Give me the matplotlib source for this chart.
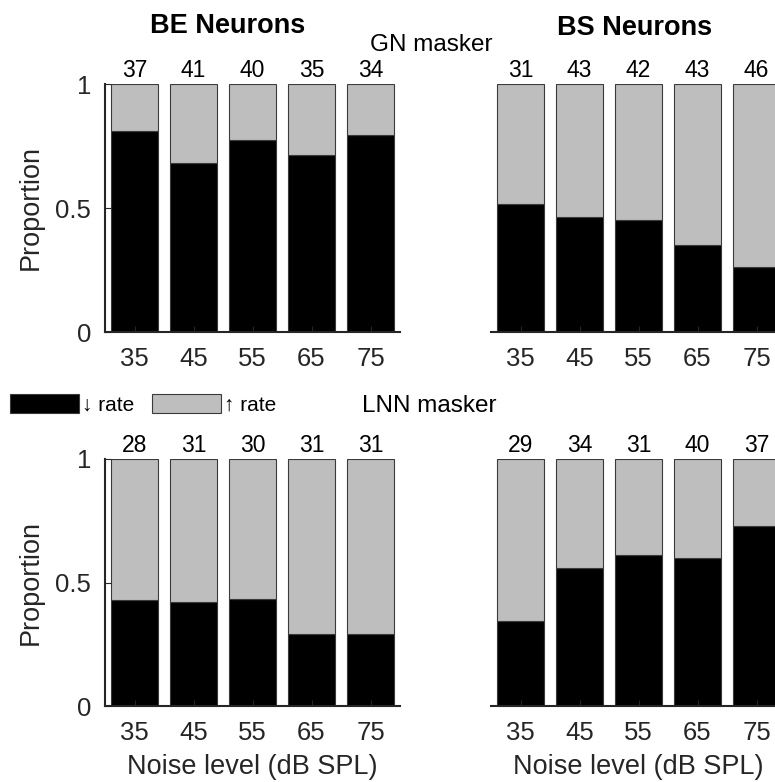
import numpy as np
import matplotlib
matplotlib.use("Agg")
import matplotlib.pyplot as plt
from matplotlib.patches import Patch

plt.rcParams["font.family"] = ["Liberation Sans", "DejaVu Sans"]

levels = [35, 45, 55, 65, 75]
level_labels = ["35", "45", "55", "65", "75"]

# neurons tested per level, and how many of them decreased their rate
be_gn_total = [37, 41, 40, 35, 34]
be_gn_down = [30, 28, 31, 25, 27]
bs_gn_total = [31, 43, 42, 43, 46]
bs_gn_down = [16, 20, 19, 15, 12]
be_lnn_total = [28, 31, 30, 31, 31]
be_lnn_down = [12, 13, 13, 9, 9]
bs_lnn_total = [29, 34, 31, 40, 37]
bs_lnn_down = [10, 19, 19, 24, 27]

DARK = "#262626"
GREY = "#bebebe"
EDGE = "#3a3a3a"

W, H = 775, 782
fig = plt.figure(figsize=(W / 100, H / 100), dpi=100)


def px_axes(x0, x1, y_top, y_bot):
    return fig.add_axes([x0 / W, 1 - y_bot / H, (x1 - x0) / W, (y_bot - y_top) / H])


def stacked(ax, total, down, show_y, xlabel):
    total = np.array(total, float)
    frac_down = np.array(down) / total
    ax.bar(levels, frac_down, width=8, color="black", edgecolor=EDGE, linewidth=0.8)
    ax.bar(levels, 1 - frac_down, bottom=frac_down, width=8, color=GREY,
           edgecolor=EDGE, linewidth=0.8)
    for x, n in zip(levels, total):
        ax.annotate(f"{int(n)}", (x, 1), xytext=(0, 1.5), textcoords="offset points",
                    ha="center", va="bottom", fontsize=16.5, color="black")
    ax.set_xlim(30, 80)
    ax.set_ylim(0, 1)
    ax.set_xticks(levels)
    ax.set_xticklabels(level_labels)
    for s in ("top", "right"):
        ax.spines[s].set_visible(False)
    ax.spines["bottom"].set_color(DARK)
    ax.spines["bottom"].set_linewidth(1.5)
    ax.tick_params(axis="x", direction="in", length=4, width=0.8, colors=DARK,
                   labelsize=18.5, pad=11)
    if show_y:
        ax.spines["left"].set_color(DARK)
        ax.spines["left"].set_linewidth(1.5)
        ax.set_yticks([0, 0.5, 1])
        ax.set_yticklabels(["0", "0.5", "1"])
        ax.tick_params(axis="y", direction="in", length=4, width=0.8, colors=DARK,
                       labelsize=18.5, pad=10)
        ax.set_ylabel("Proportion", fontsize=19.5, color=DARK, labelpad=8)
    else:
        ax.spines["left"].set_visible(False)
        ax.set_yticks([])
    if xlabel:
        ax.set_xlabel("Noise level (dB SPL)", fontsize=19.5, color=DARK, labelpad=6)


ax1 = px_axes(105, 400, 84, 332)
ax2 = px_axes(491, 786, 84, 332)
ax3 = px_axes(105, 400, 459, 706)
ax4 = px_axes(491, 786, 459, 706)

stacked(ax1, be_gn_total, be_gn_down, True, False)
stacked(ax2, bs_gn_total, bs_gn_down, False, False)
stacked(ax3, be_lnn_total, be_lnn_down, True, True)
stacked(ax4, bs_lnn_total, bs_lnn_down, False, True)

fig.text(228 / W, 1 - 26 / H, "BE Neurons", ha="center", va="center",
         fontsize=19.5, fontweight="bold")
fig.text(635 / W, 1 - 28 / H, "BS Neurons", ha="center", va="center",
         fontsize=19.5, fontweight="bold")
fig.text(431 / W, 1 - 45 / H, "GN masker", ha="center", va="center", fontsize=17.5)
fig.text(429 / W, 1 - 406 / H, "LNN masker", ha="center", va="center", fontsize=17.5)

handles = [Patch(facecolor="black", edgecolor=EDGE, linewidth=0.8),
           Patch(facecolor=GREY, edgecolor=EDGE, linewidth=0.8)]
fig.legend(handles, ["↓ rate", "↑ rate"], ncol=2, loc="center left",
           bbox_to_anchor=(0 / W, 1 - 404 / H), frameon=False, fontsize=15,
           handlelength=3.3, handleheight=1.05, handletextpad=0.15,
           columnspacing=0.85, borderpad=0.2, borderaxespad=0.3)

fig.savefig("out.png", dpi=100)
